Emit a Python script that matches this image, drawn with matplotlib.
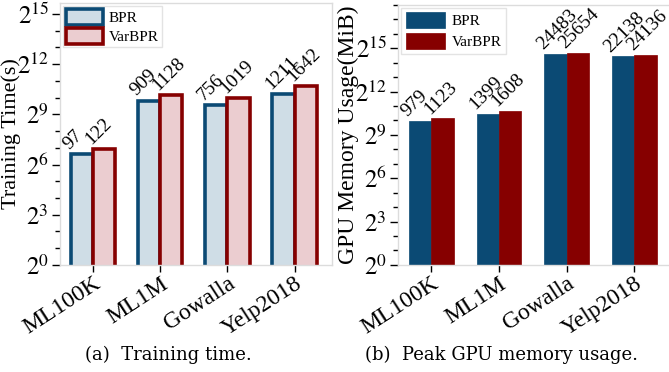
import matplotlib.pyplot as plt
import numpy as np
from matplotlib.ticker import FixedLocator, FuncFormatter

plt.rcParams['font.family'] = ['Liberation Serif', 'DejaVu Serif']
plt.rcParams['mathtext.fontset'] = 'stix'

datasets = ['ML100K', 'ML1M', 'Gowalla', 'Yelp2018']
time_bpr = [97, 909, 756, 1211]
time_var = [122, 1128, 1019, 1642]
mem_bpr = [979, 1399, 24483, 22138]
mem_var = [1123, 1608, 25654, 24136]

blue = '#0b4a74'
red = '#860000'
blue_light = '#cfdde6'
red_light = '#ebcdd0'
spine_gray = '#dcdcdc'

fig = plt.figure(figsize=(6.69, 3.72), dpi=100)
ax1 = fig.add_axes([0.0897, 0.288, 0.407, 0.704])
ax2 = fig.add_axes([0.595, 0.288, 0.41, 0.699])

x = np.arange(len(datasets))
w = 0.33


def pow2(v, pos):
    return r'$2^{%d}$' % round(np.log2(v))


def style(ax, top):
    ax.set_yscale('log', base=2)
    ax.set_ylim(1, 2 ** top)
    ax.set_xlim(-0.49, 3.56)
    ax.yaxis.set_major_locator(FixedLocator([2 ** k for k in range(0, 16, 3)]))
    ax.yaxis.set_minor_locator(FixedLocator([2 ** k for k in range(0, int(top) + 1)]))
    ax.yaxis.set_major_formatter(FuncFormatter(pow2))
    ax.yaxis.set_minor_formatter(FuncFormatter(lambda v, p: ''))
    ax.tick_params(axis='y', which='major', length=6, width=1, labelsize=18, pad=2)
    ax.tick_params(axis='y', which='minor', length=3.5, width=1)
    ax.tick_params(axis='x', length=5, width=1, labelsize=17, pad=1)
    ax.set_xticks(x)
    ax.set_xticklabels(datasets, rotation=33, ha='right', rotation_mode='anchor')
    for s in ax.spines.values():
        s.set_color(spine_gray)
        s.set_linewidth(1)


def annotate(ax, xs, vals):
    for xi, v in zip(xs, vals):
        ax.text(xi - w / 2 + 0.02, v * 1.05, str(v), rotation=45, ha='left', va='bottom',
                rotation_mode='anchor', fontsize=14)


# (a) training time
ax1.bar(x - w / 2, time_bpr, w, facecolor=blue_light, edgecolor=blue, linewidth=2.6, label='BPR')
ax1.bar(x + w / 2, time_var, w, facecolor=red_light, edgecolor=red, linewidth=2.6, label='VarBPR')
style(ax1, 15.66)
annotate(ax1, x - w / 2, time_bpr)
annotate(ax1, x + w / 2, time_var)
ax1.set_ylabel('Training Time(s)', fontsize=16, labelpad=-3)
ax1.legend(loc='upper left', fontsize=11, frameon=True, edgecolor=spine_gray, fancybox=False,
           handlelength=2.4, handleheight=1.2, borderaxespad=0.2, borderpad=0.2,
           labelspacing=0.2, handletextpad=0.4)

# (b) GPU memory
ax2.bar(x - w / 2, mem_bpr, w, facecolor=blue, edgecolor=blue, linewidth=0.5, label='BPR')
ax2.bar(x + w / 2, mem_var, w, facecolor=red, edgecolor=red, linewidth=0.5, label='VarBPR')
style(ax2, 18)
annotate(ax2, x - w / 2, mem_bpr)
annotate(ax2, x + w / 2, mem_var)
ax2.set_ylabel('GPU Memory Usage(MiB)', fontsize=17, labelpad=-3)
ax2.legend(loc='upper left', fontsize=11, frameon=True, edgecolor=spine_gray, fancybox=False,
           handlelength=2.6, handleheight=1.2, borderaxespad=0.2, borderpad=0.3,
           labelspacing=0.3, handletextpad=0.4)

fig.text(0.251, 0.047, '(a)  Training time.', ha='center', va='center', fontsize=13,
         family=['DejaVu Serif'])
fig.text(0.75, 0.047, '(b)  Peak GPU memory usage.', ha='center', va='center', fontsize=13,
         family=['DejaVu Serif'])

fig.savefig('out.png', dpi=100)
